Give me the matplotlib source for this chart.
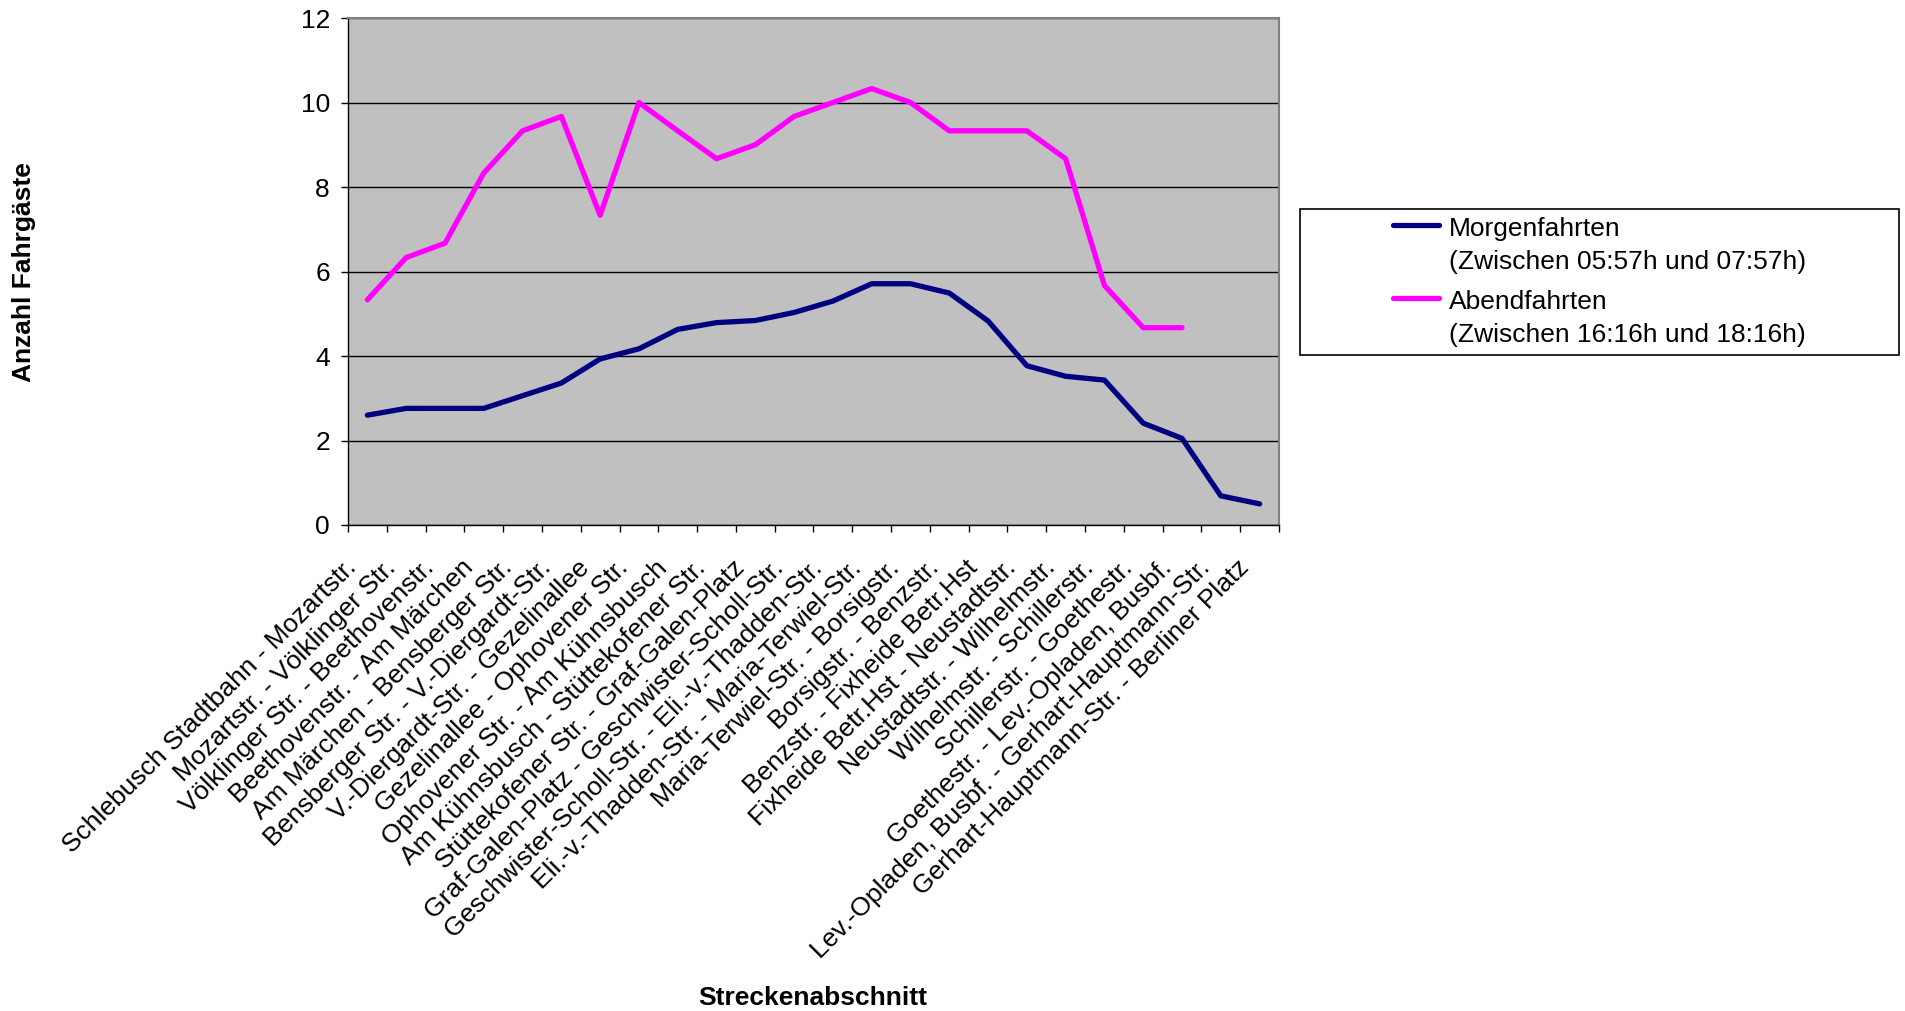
import matplotlib
matplotlib.use('Agg')
import matplotlib.pyplot as plt
import matplotlib.transforms as mtransforms
import numpy as np
from matplotlib.legend_handler import HandlerLine2D
from matplotlib.patches import Rectangle

# ---------------- data ----------------
categories = [
    "Schlebusch Stadtbahn - Mozartstr.",
    "Mozartstr. - Völklinger Str.",
    "Völklinger Str. - Beethovenstr.",
    "Beethovenstr. - Am Märchen",
    "Am Märchen - Bensberger Str.",
    "Bensberger Str. - V.-Diergardt-Str.",
    "V.-Diergardt-Str. - Gezelinallee",
    "Gezelinallee - Ophovener Str.",
    "Ophovener Str. - Am Kühnsbusch",
    "Am Kühnsbusch - Stüttekofener Str.",
    "Stüttekofener Str. - Graf-Galen-Platz",
    "Graf-Galen-Platz - Geschwister-Scholl-Str.",
    "Geschwister-Scholl-Str. - Eli.-v.-Thadden-Str.",
    "Eli.-v.-Thadden-Str. - Maria-Terwiel-Str.",
    "Maria-Terwiel-Str. - Borsigstr.",
    "Borsigstr. - Benzstr.",
    "Benzstr. - Fixheide Betr.Hst",
    "Fixheide Betr.Hst - Neustadtstr.",
    "Neustadtstr. - Wilhelmstr.",
    "Wilhelmstr. - Schillerstr.",
    "Schillerstr. - Goethestr.",
    "Goethestr. - Lev.-Opladen, Busbf.",
    "Lev.-Opladen, Busbf. - Gerhart-Hauptmann-Str.",
    "Gerhart-Hauptmann-Str. - Berliner Platz",
]

morgenfahrten = [2.6, 2.76, 2.76, 2.76, 3.06, 3.36, 3.93, 4.17, 4.63, 4.79,
                 4.84, 5.03, 5.3, 5.71, 5.71, 5.49, 4.83, 3.77, 3.52, 3.43,
                 2.41, 2.05, 0.69, 0.5]

abendfahrten = [5.33, 6.33, 6.67, 8.33, 9.33, 9.67, 7.33, 10.0, 9.33, 8.67,
                9.0, 9.67, 10.0, 10.33, 10.0, 9.33, 9.33, 9.33, 8.67, 5.67,
                4.67, 4.67]

series_labels = ["Morgenfahrten\n(Zwischen 05:57h und 07:57h)",
                 "Abendfahrten\n(Zwischen 16:16h und 18:16h)"]
series_colors = ["#000080", "#FF00FF"]

yticks = [0, 2, 4, 6, 8, 10, 12]
y_title = "Anzahl Fahrgäste"
x_title = "Streckenabschnitt"

# ---------------- style ----------------
plt.rcParams['font.family'] = ['Liberation Sans', 'DejaVu Sans']
FS = 19

fig = plt.figure(figsize=(19.06, 10.11), dpi=100)
fig.patch.set_facecolor('white')
ax = fig.add_axes([348 / 1906, 1 - 525 / 1011, (1279 - 348) / 1906, (525 - 18) / 1011])
ax.set_facecolor('#C0C0C0')

x = np.arange(len(categories))
l1, = ax.plot(x[:len(morgenfahrten)], morgenfahrten, color=series_colors[0], lw=3.8,
              solid_joinstyle='round', solid_capstyle='round', zorder=3)
l2, = ax.plot(x[:len(abendfahrten)], abendfahrten, color=series_colors[1], lw=3.8,
              solid_joinstyle='round', solid_capstyle='round', zorder=3)

ax.set_xlim(-0.5, len(categories) - 0.5)
ax.set_ylim(yticks[0], yticks[-1])
ax.set_yticks(yticks)
ax.set_yticklabels([str(v) for v in yticks], fontsize=FS)
ax.yaxis.grid(True, color='black', lw=1.0)
ax.set_axisbelow(True)

ax.set_xticks(x)
ax.set_xticklabels(categories, rotation=45, ha='right', va='top', fontsize=FS)
ax.set_xticks(np.arange(len(categories) + 1) - 0.5, minor=True)
ax.tick_params(axis='x', which='major', length=0, pad=22)
ax.tick_params(axis='x', which='minor', length=5, width=1, direction='out', color='black')
ax.tick_params(axis='y', which='major', length=5, width=1, direction='out', pad=8, color='black')

shift = mtransforms.ScaledTranslation(-0.06, 0, fig.dpi_scale_trans)
for lab in ax.get_xticklabels():
    lab.set_transform(lab.get_transform() + shift)

for s in ['left', 'bottom']:
    ax.spines[s].set_color('black')
    ax.spines[s].set_linewidth(1.0)
for s in ['top', 'right']:
    ax.spines[s].set_color('#808080')
    ax.spines[s].set_linewidth(1.5)

fig.text(24 / 1906, 1 - 272 / 1011, y_title, rotation=90, fontsize=FS, fontweight='bold',
         ha='center', va='center')
fig.text(813 / 1906, 1 - 998 / 1011, x_title, fontsize=FS, fontweight='bold',
         ha='center', va='center')


# ---------------- legend ----------------
class UpHandler(HandlerLine2D):
    def create_artists(self, legend, orig_handle, xdescent, ydescent, width, height,
                       fontsize, trans):
        arts = super().create_artists(legend, orig_handle, xdescent, ydescent, width,
                                      height, fontsize, trans)
        for a in arts:
            yd = np.asarray(a.get_ydata(), dtype=float)
            a.set_ydata(yd + 0.78 * fontsize)
        return arts


box = Rectangle((1300 / 1906, 1 - 355 / 1011), 599 / 1906, 146 / 1011,
                transform=fig.transFigure, facecolor='white', edgecolor='black', lw=1.2)
fig.add_artist(box)
leg = fig.legend([l1, l2], series_labels, loc='center',
                 bbox_to_anchor=((1300 + 599 / 2) / 1906, 1 - (355 - 73) / 1011),
                 frameon=False, fontsize=FS, handlelength=1.75, handletextpad=0.35,
                 labelspacing=0.62, borderpad=0.0,
                 handler_map={l1: UpHandler(), l2: UpHandler()})
for t in leg.get_texts():
    t.set_linespacing(1.45)

fig.savefig('out.png', dpi=100)
